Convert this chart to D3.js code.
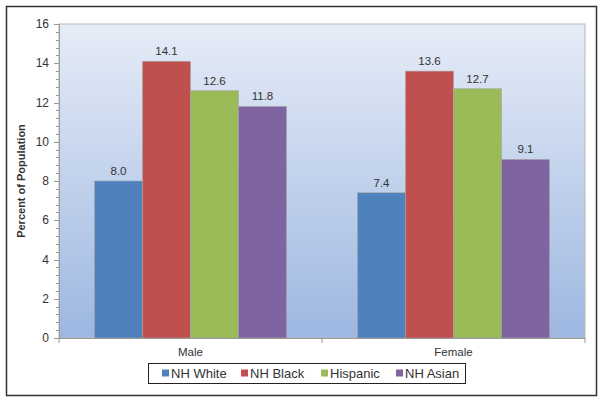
<!DOCTYPE html>
<html>
<head>
<meta charset="utf-8">
<script src="https://cdn.jsdelivr.net/npm/d3@7"></script>
<style>
  body { margin: 0; background: #fff; }
  text { font-family: "Liberation Sans", Arial, sans-serif; fill: #333; }
</style>
</head>
<body>
<div id="chart"></div>
<script>
const categories = ["Male", "Female"];
const seriesNames = ["NH White", "NH Black", "Hispanic", "NH Asian"];
const maleValues = [8.0, 14.1, 12.6, 11.8];
const femaleValues = [7.4, 13.6, 12.7, 9.1];
const yTicks = [0, 2, 4, 6, 8, 10, 12, 14, 16];

const colors = ["#4f81bd", "#c0504d", "#9bbb59", "#8064a2"];
const valuesByCat = { Male: maleValues, Female: femaleValues };

const width = 604, height = 402;
const margin = { top: 24, right: 19, bottom: 64, left: 59 };

const svg = d3.select("#chart")
  .append("svg")
  .attr("width", width)
  .attr("height", height);

// outer frame
svg.append("rect")
  .attr("x", 6.5).attr("y", 6.5)
  .attr("width", 590).attr("height", 389)
  .attr("fill", "#fff")
  .attr("stroke", "#333")
  .attr("stroke-width", 1.5);

const grad = svg.append("defs").append("linearGradient")
  .attr("id", "bg").attr("x1", 0).attr("y1", 0).attr("x2", 0).attr("y2", 1);
grad.append("stop").attr("offset", "0%").attr("stop-color", "#e6ecf7");
grad.append("stop").attr("offset", "100%").attr("stop-color", "#9db7e1");

const x0 = d3.scaleBand()
  .domain(categories)
  .range([margin.left, width - margin.right])
  .paddingInner(0.27)
  .paddingOuter(0.135);

const x1 = d3.scaleBand()
  .domain(seriesNames)
  .range([0, x0.bandwidth()]);

const y = d3.scaleLinear()
  .domain([0, 16])
  .range([height - margin.bottom, margin.top]);

const plotW = width - margin.right - margin.left;

svg.append("rect")
  .attr("x", margin.left).attr("y", margin.top)
  .attr("width", plotW)
  .attr("height", y(0) - margin.top)
  .attr("fill", "url(#bg)")
  .attr("stroke", "#b8b8b8")
  .attr("stroke-width", 1);

// bars
const groups = svg.append("g")
  .selectAll("g")
  .data(categories)
  .join("g")
  .attr("transform", d => `translate(${x0(d)},0)`);

groups.selectAll("rect")
  .data(c => valuesByCat[c].map((v, i) => ({ name: seriesNames[i], value: v, i })))
  .join("rect")
  .attr("x", d => x1(d.name))
  .attr("y", d => y(d.value))
  .attr("width", x1.bandwidth())
  .attr("height", d => y(0) - y(d.value))
  .attr("fill", d => colors[d.i])
  .attr("stroke", "#a6a6a6")
  .attr("stroke-width", 0.6);

groups.selectAll("text")
  .data(c => valuesByCat[c].map((v, i) => ({ name: seriesNames[i], value: v })))
  .join("text")
  .attr("x", d => x1(d.name) + x1.bandwidth() / 2)
  .attr("y", d => y(d.value) - 6)
  .attr("text-anchor", "middle")
  .attr("font-size", 11.5)
  .text(d => d.value.toFixed(1));

// y axis
const yAxis = svg.append("g")
  .attr("transform", `translate(${margin.left},0)`);

yAxis.selectAll("line.minor")
  .data(d3.range(0, 16.01, 0.4))
  .join("line")
  .attr("class", "minor")
  .attr("x1", -3).attr("x2", 0)
  .attr("y1", d => Math.round(y(d)) + 0.5)
  .attr("y2", d => Math.round(y(d)) + 0.5)
  .attr("stroke", "#999");

yAxis.selectAll("line.major")
  .data(yTicks)
  .join("line")
  .attr("class", "major")
  .attr("x1", -5).attr("x2", 0)
  .attr("y1", d => Math.round(y(d)) + 0.5)
  .attr("y2", d => Math.round(y(d)) + 0.5)
  .attr("stroke", "#999");

yAxis.append("line")
  .attr("x1", 0.5).attr("x2", 0.5)
  .attr("y1", margin.top).attr("y2", y(0))
  .attr("stroke", "#999");

yAxis.selectAll("text")
  .data(yTicks)
  .join("text")
  .attr("x", -10)
  .attr("y", d => y(d))
  .attr("dy", "0.35em")
  .attr("text-anchor", "end")
  .attr("font-size", 12)
  .text(d => d);

svg.append("text")
  .attr("transform", `translate(25,${(margin.top + y(0)) / 2}) rotate(-90)`)
  .attr("text-anchor", "middle")
  .attr("font-size", 11)
  .attr("font-weight", "bold")
  .attr("fill", "#222")
  .text("Percent of Population");

// x axis
const xAxis = svg.append("g");
xAxis.append("line")
  .attr("x1", margin.left).attr("x2", width - margin.right)
  .attr("y1", y(0) + 0.5).attr("y2", y(0) + 0.5)
  .attr("stroke", "#999");

const step = x0.step();
xAxis.selectAll("line.tick")
  .data(d3.range(categories.length + 1))
  .join("line")
  .attr("class", "tick")
  .attr("x1", i => margin.left + i * step)
  .attr("x2", i => margin.left + i * step)
  .attr("y1", y(0)).attr("y2", y(0) + 5)
  .attr("stroke", "#999");

xAxis.selectAll("text")
  .data(categories)
  .join("text")
  .attr("x", d => x0(d) + x0.bandwidth() / 2)
  .attr("y", y(0) + 18)
  .attr("text-anchor", "middle")
  .attr("font-size", 11.5)
  .text(d => d);

// legend
const legend = svg.append("g");
legend.append("rect")
  .attr("x", 148.5).attr("y", 363.5)
  .attr("width", 317).attr("height", 20)
  .attr("fill", "#fff")
  .attr("stroke", "#222")
  .attr("stroke-width", 1);

const legendX = [162, 241, 321, 396];
const items = legend.selectAll("g")
  .data(seriesNames)
  .join("g")
  .attr("transform", (d, i) => `translate(${legendX[i]},373)`);

items.append("rect")
  .attr("x", 0).attr("y", -3.5)
  .attr("width", 7).attr("height", 7)
  .attr("fill", (d, i) => colors[i]);

items.append("text")
  .attr("x", 9)
  .attr("dy", "0.36em")
  .attr("font-size", 13)
  .attr("fill", "#222")
  .text(d => d);
</script>
</body>
</html>
